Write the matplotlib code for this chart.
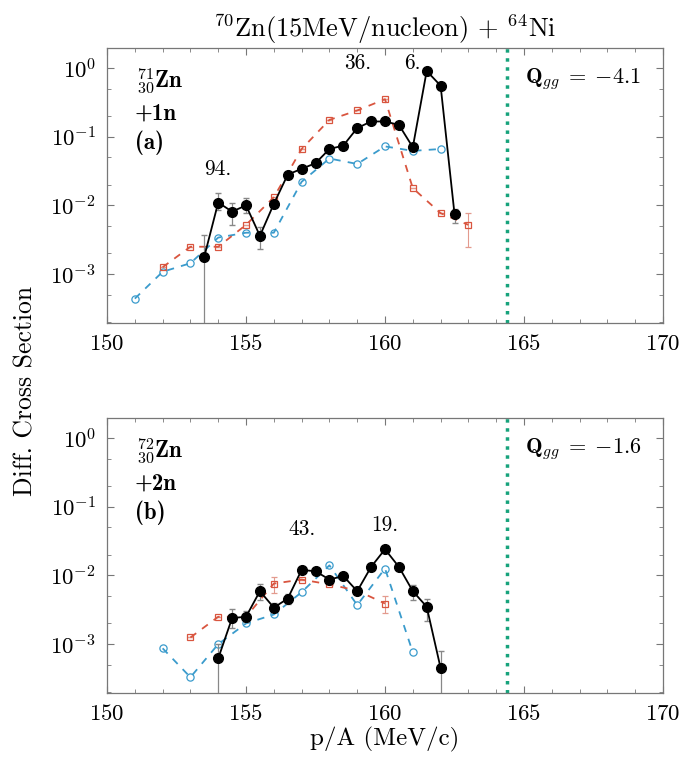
import numpy as np
import matplotlib
matplotlib.use("Agg")
import matplotlib.pyplot as plt
from matplotlib.ticker import LogLocator, MultipleLocator, NullFormatter

plt.rcParams['font.family'] = 'serif'
plt.rcParams['font.serif'] = ['cmr10']
plt.rcParams['mathtext.fontset'] = 'cm'
plt.rcParams['axes.unicode_minus'] = False
plt.rcParams['axes.formatter.use_mathtext'] = True

# (a) 71Zn + 1n
a_exp_x = [153.5, 154.0, 154.5, 155.0, 155.5, 156.0, 156.5, 157.0, 157.5, 158.0,
           158.5, 159.0, 159.5, 160.0, 160.5, 161.0, 161.5, 162.0, 162.5]
a_exp_y = [1.8e-3, 0.011, 0.0081, 0.010, 0.0036, 0.0105, 0.028, 0.034, 0.041, 0.066,
           0.074, 0.133, 0.166, 0.166, 0.148, 0.070, 0.90, 0.55, 0.0075]
a_exp_lo = [1e-7, 8.5e-3, 5.2e-3, 7.7e-3, 2.3e-3, 0.0105, 0.028, 0.034, 0.041, 0.066,
            0.074, 0.133, 0.166, 0.166, 0.148, 0.070, 0.90, 0.55, 5.5e-3]
a_exp_hi = [3.7e-3, 0.0151, 0.0107, 0.0126, 4.8e-3, 0.0105, 0.028, 0.034, 0.041, 0.066,
            0.074, 0.133, 0.166, 0.166, 0.148, 0.070, 0.90, 0.55, 8.9e-3]

a_sq_x = [152, 153, 154, 155, 156, 157, 158, 159, 160, 161, 162, 163]
a_sq_y = [1.26e-3, 2.5e-3, 2.5e-3, 5.2e-3, 0.0131, 0.066, 0.175, 0.24, 0.35, 0.0178, 0.0077, 0.0052]
a_sq_lo = [1.26e-3, 2.5e-3, 2.5e-3, 5.2e-3, 0.0131, 0.066, 0.175, 0.24, 0.35, 0.0178, 0.0077, 2.5e-3]
a_sq_hi = [1.26e-3, 2.5e-3, 2.5e-3, 5.2e-3, 0.0131, 0.066, 0.175, 0.24, 0.35, 0.0178, 0.0077, 7.8e-3]

a_ci_x = [151, 152, 153, 154, 155, 156, 157, 158, 159, 160, 161, 162]
a_ci_y = [4.4e-4, 1.08e-3, 1.44e-3, 3.4e-3, 4.0e-3, 4.0e-3, 0.022, 0.048, 0.040, 0.072, 0.062, 0.066]

a_notes = [(154.0, "94."), (159.0, "36."), (161.0, "6.")]
a_note_y = [0.0245, 0.85, 0.85]

# (b) 72Zn + 2n
b_exp_x = [154.0, 154.5, 155.0, 155.5, 156.0, 156.5, 157.0, 157.5, 158.0, 158.5,
           159.0, 159.5, 160.0, 160.5, 161.0, 161.5, 162.0]
b_exp_y = [6.2e-4, 2.4e-3, 2.5e-3, 5.9e-3, 3.4e-3, 4.6e-3, 0.012, 0.0115, 0.0087, 0.0098,
           5.9e-3, 0.0133, 0.024, 0.0133, 5.9e-3, 3.5e-3, 4.5e-4]
b_exp_lo = [1e-7, 1.7e-3, 2.1e-3, 4.4e-3, 2.9e-3, 3.9e-3, 0.012, 0.0115, 0.0087, 0.0098,
            5.9e-3, 0.0133, 0.024, 0.0133, 4.4e-3, 2.2e-3, 1e-7]
b_exp_hi = [1.0e-3, 3.2e-3, 3.0e-3, 7.6e-3, 4.0e-3, 5.4e-3, 0.012, 0.0115, 0.0087, 0.0098,
            5.9e-3, 0.0133, 0.024, 0.0133, 7.2e-3, 4.6e-3, 7.9e-4]

b_sq_x = [153, 154, 155, 156, 157, 158, 159, 160]
b_sq_y = [1.25e-3, 2.5e-3, 2.5e-3, 7.6e-3, 8.7e-3, 7.4e-3, 6.0e-3, 3.9e-3]
b_sq_lo = [1.25e-3, 2.5e-3, 2.5e-3, 5.6e-3, 8.7e-3, 7.4e-3, 6.0e-3, 2.8e-3]
b_sq_hi = [1.25e-3, 2.5e-3, 2.5e-3, 9.5e-3, 8.7e-3, 7.4e-3, 6.0e-3, 5.1e-3]

b_ci_x = [152, 153, 154, 155, 156, 157, 158, 159, 160, 161]
b_ci_y = [8.7e-4, 3.3e-4, 1.0e-3, 2.0e-3, 2.7e-3, 5.7e-3, 0.014, 3.7e-3, 0.0126, 7.6e-4]

b_notes = [(157.0, "43."), (160.0, "19.")]
b_note_y = [0.034, 0.039]

q_line = 164.4
q_vals = ["-4.1", "-1.6"]

RED = '#d9553f'
BLUE = '#3a9bcc'
GREEN = '#17a37c'
FRAME = '#777777'


def yerr(y, lo, hi):
    y = np.array(y)
    return [y - np.array(lo), np.array(hi) - y]


def panel(ax, ex, ey, elo, ehi, sx, sy, slo, shi, cx, cy, notes, note_y, nucl, label, q):
    ax.errorbar(cx, cy, fmt='--o', color=BLUE, lw=1.3, dashes=(4, 4), ms=5.2,
                mfc='none', mec=BLUE, mew=0.9, zorder=2)
    ax.errorbar(sx, sy, yerr=yerr(sy, slo, shi), fmt='--s', color=RED, lw=1.3,
                dashes=(4, 4), ms=4.8, mfc='none', mec=RED, mew=0.9,
                ecolor='#e39a8e', elinewidth=0.8, capsize=2.5, zorder=3)
    ax.errorbar(ex, ey, yerr=yerr(ey, elo, ehi), fmt='-o', color='black', lw=1.3,
                ms=7, ecolor='#888888', elinewidth=0.9, capsize=2.5, zorder=4)
    ax.axvline(q_line, color=GREEN, lw=2.5, ls=(0, (1, 1.6)), zorder=1)

    for (x, t), y in zip(notes, note_y):
        ax.text(x, y, t, ha='center', va='bottom', fontsize=15.5)

    ax.text(0.052, 0.93, nucl, transform=ax.transAxes, fontsize=16.5, va='top')
    ax.text(0.050, 0.80, label[0], transform=ax.transAxes, fontsize=16.5, va='top',
            family='cmb10')
    ax.text(0.050, 0.70, label[1], transform=ax.transAxes, fontsize=16.5, va='top',
            family='cmb10')
    ax.text(0.752, 0.935, r"$\mathbf{Q}_{gg}\;=\;{%s}$" % q, transform=ax.transAxes,
            fontsize=16, va='top')

    ax.set_yscale('log')
    ax.set_xlim(150, 170)
    ax.set_ylim(1.95e-4, 1.95)
    ax.xaxis.set_major_locator(MultipleLocator(5))
    ax.xaxis.set_minor_locator(MultipleLocator(1))
    ax.yaxis.set_major_locator(LogLocator(base=10, numticks=10))
    ax.yaxis.set_minor_locator(LogLocator(base=10, subs=(2, 5), numticks=10))
    ax.yaxis.set_minor_formatter(NullFormatter())
    ax.tick_params(which='both', direction='in', top=True, right=True,
                   color=FRAME, labelsize=16.5, pad=8)
    ax.tick_params(which='major', length=5, width=0.8)
    ax.tick_params(which='minor', length=3, width=0.6)
    for s in ax.spines.values():
        s.set_color(FRAME)
        s.set_linewidth(0.9)


fig = plt.figure(figsize=(6.83, 7.58), dpi=100)
ax1 = fig.add_axes([0.1567, 0.574, 0.814, 0.3628])
ax2 = fig.add_axes([0.1567, 0.0858, 0.814, 0.3628])

panel(ax1, a_exp_x, a_exp_y, a_exp_lo, a_exp_hi, a_sq_x, a_sq_y, a_sq_lo, a_sq_hi,
      a_ci_x, a_ci_y, a_notes, a_note_y, r"$^{71}_{30}\mathbf{Zn}$",
      ("+1n", "(a)"), q_vals[0])
panel(ax2, b_exp_x, b_exp_y, b_exp_lo, b_exp_hi, b_sq_x, b_sq_y, b_sq_lo, b_sq_hi,
      b_ci_x, b_ci_y, b_notes, b_note_y, r"$^{72}_{30}\mathbf{Zn}$",
      ("+2n", "(b)"), q_vals[1])

ax1.set_title(r"$^{70}$Zn(15MeV/nucleon) + $^{64}$Ni", fontsize=19, pad=8)
ax2.set_xlabel("p/A (MeV/c)", fontsize=18, labelpad=2)
fig.text(0.038, 0.484, "Diff. Cross Section", rotation=90, ha='center', va='center',
         fontsize=18.5)

fig.savefig("out.png", dpi=100)
